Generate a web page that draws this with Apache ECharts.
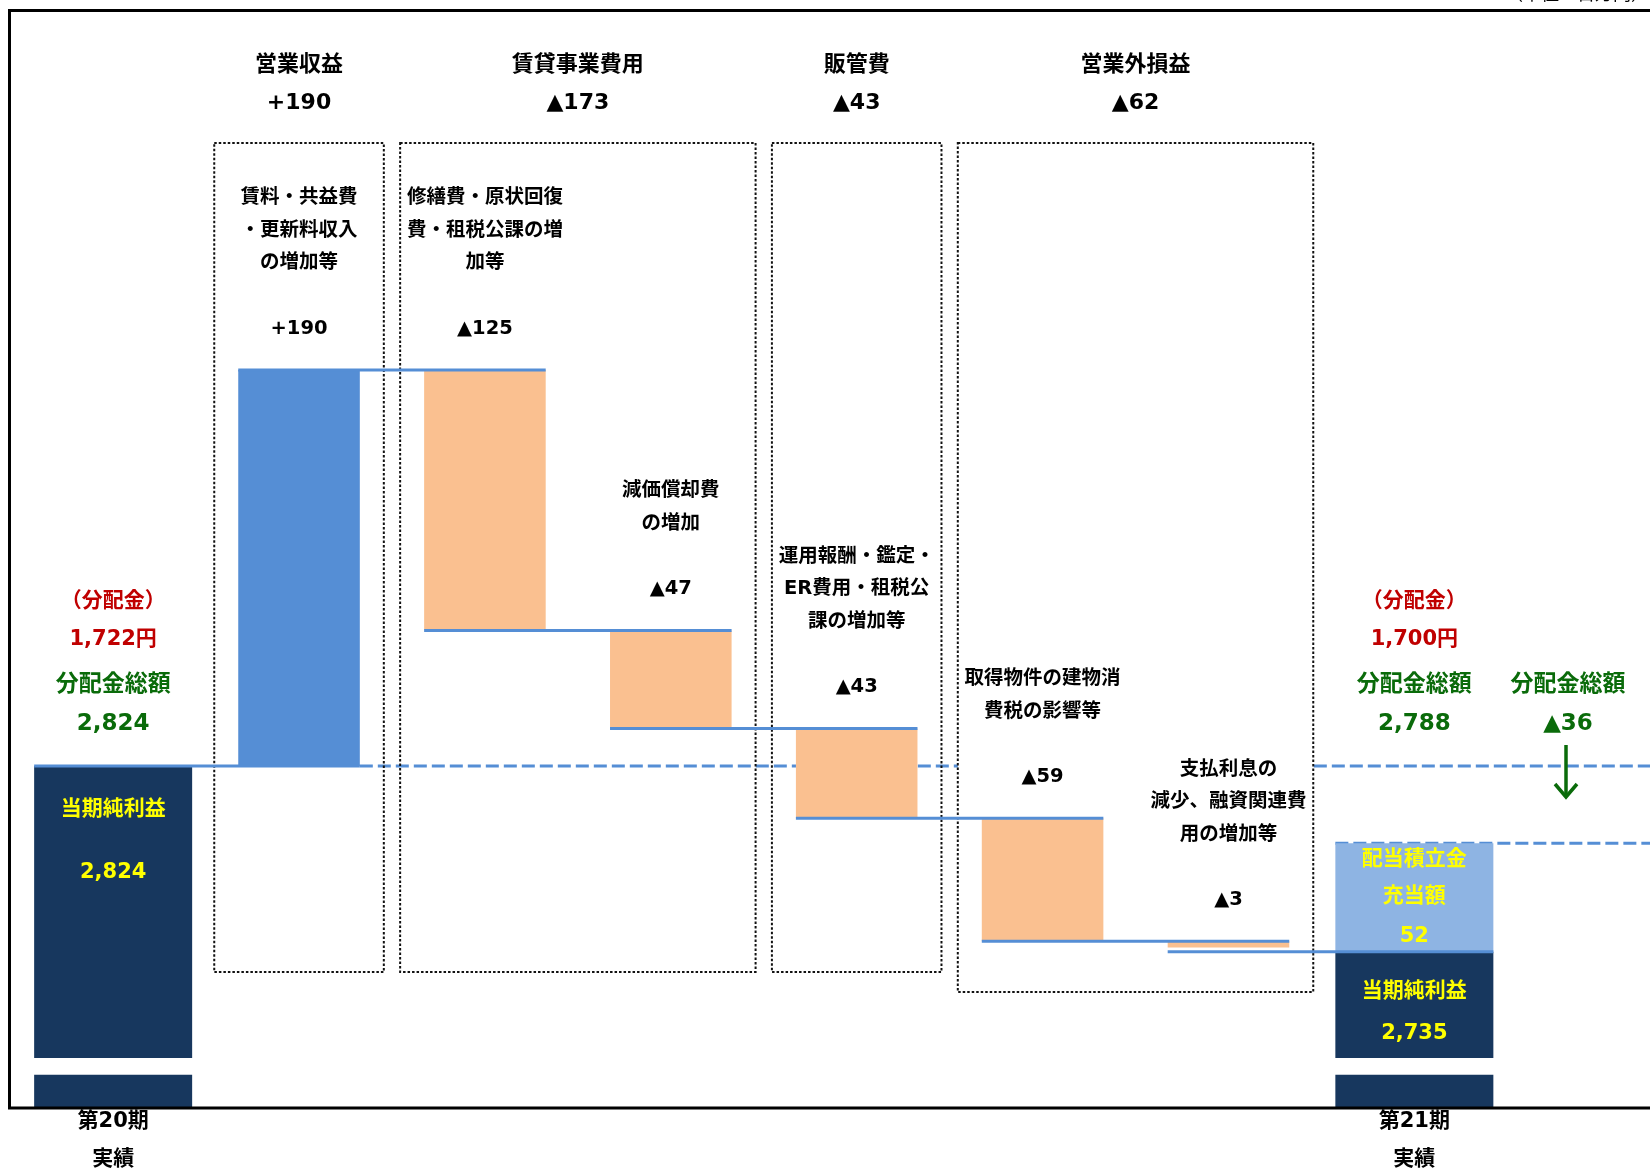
<!DOCTYPE html>
<html>
<head>
<meta charset="utf-8">
<title>当期純利益の増減（第20期→第21期）</title>
<script src="https://cdn.jsdelivr.net/npm/echarts@6/dist/echarts.min.js"></script>
<style>
  html, body { margin: 0; padding: 0; background: #fff; }
  #chart { width: 1650px; height: 1170px; }
</style>
</head>
<body>
<div id="chart"></div>
<script>
// 単位：百万円
const periodLabels = ['第20期\n実績', '第21期\n実績'];
const startProfit = 2824;            // 第20期 当期純利益
const endProfit = 2735;              // 第21期 当期純利益
const reserveUse = 52;               // 配当積立金充当額
const dividendPerUnit = [1722, 1700]; // 分配金（円）
const dividendTotal = [2824, 2788];   // 分配金総額

const stepValues = [190, -125, -47, -43, -59, -3];
const stepNotes = [
  '賃料・共益費\n・更新料収入\nの増加等',
  '修繕費・原状回復\n費・租税公課の増\n加等',
  '減価償却費\nの増加',
  '運用報酬・鑑定・\nER費用・租税公\n課の増加等',
  '取得物件の建物消\n費税の影響等',
  '支払利息の\n減少、融資関連費\n用の増加等'
];
const groupNames = ['営業収益', '賃貸事業費用', '販管費', '営業外損益'];
const groupValues = [190, -173, -43, -62];
const groupSpans = [[1, 1], [2, 3], [4, 4], [5, 6]];

const FONT = "'DejaVu Sans', 'Noto Sans CJK JP', sans-serif";
const BLUE = '#558ED5', ORANGE = '#FAC090', NAVY = '#17375E', LIGHT = '#8EB4E3';
const YELLOW = '#FFFF00', RED = '#C00000', GREEN = '#0A6B0A';

const Y_MIN = 2660, Y_MAX = 3100;
const cut = [2676, 2684];   // 縦軸の省略部分

function signed(v) { return v > 0 ? '+' + v : '▲' + Math.abs(v); }
function num(v) { return v.toLocaleString('en-US'); }
function txt(text, x, y, size, color, extra) {
  return {
    type: 'text', z2: 20,
    style: Object.assign({
      text: text, x: x, y: y, fill: color,
      font: 'bold ' + size + 'px ' + FONT,
      align: 'center', verticalAlign: 'middle'
    }, extra || {})
  };
}

// 表示用データ
const categories = [periodLabels[0]].concat(stepNotes, [periodLabels[1]]);
let level = startProfit;
const stepData = stepValues.map(function (v, i) {
  const from = level;
  level += v;
  return [i + 1, from, level, v];
});
const periodData = [[0, startProfit, 0, 0], [7, endProfit, reserveUse, 1]];
const dashData = [[1, startProfit, 1], [7, endProfit + reserveUse, 0]];
const boxData = groupSpans.map(function (s, i) { return [i, s[0], s[1]]; });

function barEdges(api, idx) {
  const c = api.coord([idx, Y_MIN])[0];
  const w = api.size([1, 0])[0] * (idx === 0 || idx === 7 ? 0.85 : 0.654);
  return [c - w / 2, c + w / 2, c];
}

function renderDash(params, api) {
  const idx = api.value(0);
  const e = barEdges(api, idx);
  const y = api.coord([idx, api.value(1)])[1];
  return {
    type: 'line',
    shape: { x1: api.value(2) ? e[1] : e[0], y1: y, x2: api.getWidth(), y2: y },
    style: { stroke: BLUE, lineWidth: 3, lineDash: [13, 5] }
  };
}

const boxTop = 143, boxBottom = [972, 972, 972, 992];
function renderBox(params, api) {
  const i = api.value(0);
  const left = barEdges(api, api.value(1))[0] - 24;
  const right = barEdges(api, api.value(2))[1] + 24;
  const cx = (left + right) / 2;
  return {
    type: 'group',
    children: [
      {
        type: 'rect',
        shape: { x: left, y: boxTop, width: right - left, height: boxBottom[i] - boxTop },
        style: { fill: i === 3 ? '#fff' : 'none', stroke: '#111', lineWidth: 2, lineDash: [2.5, 2] }
      },
      txt(groupNames[i], cx, 65, 22, '#000'),
      txt(signed(groupValues[i]), cx, 103, 22, '#000')
    ]
  };
}

function renderStep(params, api) {
  const idx = api.value(0), from = api.value(1), to = api.value(2), v = api.value(3);
  const e = barEdges(api, idx);
  const prev = barEdges(api, idx - 1);
  const yFrom = api.coord([idx, from])[1], yTo = api.coord([idx, to])[1];
  const top = Math.min(yFrom, yTo), bottom = Math.max(yFrom, yTo);
  return {
    type: 'group',
    children: [
      {
        type: 'rect',
        shape: { x: e[0], y: top, width: e[1] - e[0], height: bottom - top },
        style: { fill: v > 0 ? BLUE : ORANGE }
      },
      {
        type: 'line', z2: 10,
        shape: { x1: prev[0], y1: yFrom, x2: e[1], y2: yFrom },
        style: { stroke: BLUE, lineWidth: 3 }
      },
      txt(stepNotes[idx - 1] + '\n\n' + signed(v), e[2], top - 25, 19.5, '#000',
        { verticalAlign: 'bottom', lineHeight: 32.6 })
    ]
  };
}

const headY = [602, 640, 685, 724];
const innerOffsets = [[43, 106], [40, 82]];
function renderPeriod(params, api) {
  const idx = api.value(0), profit = api.value(1), reserve = api.value(2), k = api.value(3);
  const e = barEdges(api, idx);
  const cx = e[2], w = e[1] - e[0];
  const yBase = api.coord([idx, Y_MIN])[1];
  const yCutLo = api.coord([idx, cut[0]])[1];
  const yCutHi = api.coord([idx, cut[1]])[1];
  const yTop = api.coord([idx, profit])[1];
  const children = [
    { type: 'rect', shape: { x: e[0], y: yCutLo, width: w, height: yBase - yCutLo }, style: { fill: NAVY } },
    { type: 'rect', shape: { x: e[0], y: yTop, width: w, height: yCutHi - yTop }, style: { fill: NAVY } },
    txt('（分配金）', cx, headY[0], 21, RED),
    txt(num(dividendPerUnit[k]) + '円', cx, headY[1], 21, RED),
    txt('分配金総額', cx, headY[2], 23, GREEN),
    txt(num(dividendTotal[k]), cx, headY[3], 23, GREEN),
    txt('当期純利益', cx, yTop + innerOffsets[k][0], 21, YELLOW),
    txt(num(profit), cx, yTop + innerOffsets[k][1], 21, YELLOW)
  ];
  if (reserve) {
    const yRes = api.coord([idx, profit + reserve])[1];
    const mid = (yRes + yTop) / 2;
    const prev = barEdges(api, idx - 1);
    children.push(
      { type: 'rect', shape: { x: e[0], y: yRes, width: w, height: yTop - yRes }, style: { fill: LIGHT } },
      { type: 'line', z2: 10, shape: { x1: prev[0], y1: yTop, x2: e[1], y2: yTop }, style: { stroke: BLUE, lineWidth: 3 } },
      txt('配当積立金', cx, mid - 38, 21, YELLOW),
      txt('充当額', cx, mid - 1, 21, YELLOW),
      txt(String(reserve), cx, mid + 39, 21, YELLOW)
    );
  }
  return { type: 'group', children: children };
}

const chart = echarts.init(document.getElementById('chart'));
chart.setOption({
  animation: false,
  backgroundColor: '#fff',
  grid: { left: 20.2, width: 1487.1, top: 190.6, height: 917.4, containLabel: false, outerBoundsMode: 'none' },
  xAxis: {
    type: 'category',
    data: categories,
    axisLine: { show: false },
    axisTick: { show: false },
    axisLabel: {
      interval: 0,
      margin: -5,
      color: '#000',
      fontSize: 21,
      fontWeight: 'bold',
      fontFamily: FONT,
      lineHeight: 38,
      formatter: function (v, i) { return i === 0 || i === 7 ? v : ''; }
    }
  },
  yAxis: { type: 'value', min: Y_MIN, max: Y_MAX, show: false },
  graphic: [
    {
      type: 'rect', z: 10,
      shape: { x: 9.5, y: 10.5, width: 1700, height: 1097.5 },
      style: { fill: 'none', stroke: '#000', lineWidth: 3 }
    },
    {
      type: 'text', z: 10,
      style: { text: '（単位：百万円）', x: 1649, y: -5, align: 'right', verticalAlign: 'middle',
        font: '18px ' + FONT, fill: '#000' }
    },
    {
      type: 'text', z: 10,
      style: { text: '分配金総額', x: 1568, y: headY[2], align: 'center', verticalAlign: 'middle',
        font: 'bold 23px ' + FONT, fill: GREEN }
    },
    {
      type: 'text', z: 10,
      style: { text: signed(dividendTotal[1] - dividendTotal[0]), x: 1568, y: headY[3], align: 'center',
        verticalAlign: 'middle', font: 'bold 23px ' + FONT, fill: GREEN }
    },
    {
      type: 'polyline', z: 10,
      shape: { points: [[1566, 745], [1566, 796]] },
      style: { stroke: GREEN, lineWidth: 3.5, fill: 'none' }
    },
    {
      type: 'polyline', z: 10,
      shape: { points: [[1555, 784], [1566, 797], [1577, 784]] },
      style: { stroke: GREEN, lineWidth: 3.5, fill: 'none' }
    }
  ],
  series: [
    { type: 'custom', name: '基準線', z: 1, clip: false, data: dashData, renderItem: renderDash },
    { type: 'custom', name: '区分', z: 2, clip: false, data: boxData, renderItem: renderBox },
    { type: 'custom', name: '増減', z: 3, clip: false, data: stepData, renderItem: renderStep },
    { type: 'custom', name: '当期純利益', z: 3, clip: false, data: periodData, renderItem: renderPeriod }
  ]
});
</script>
</body>
</html>
